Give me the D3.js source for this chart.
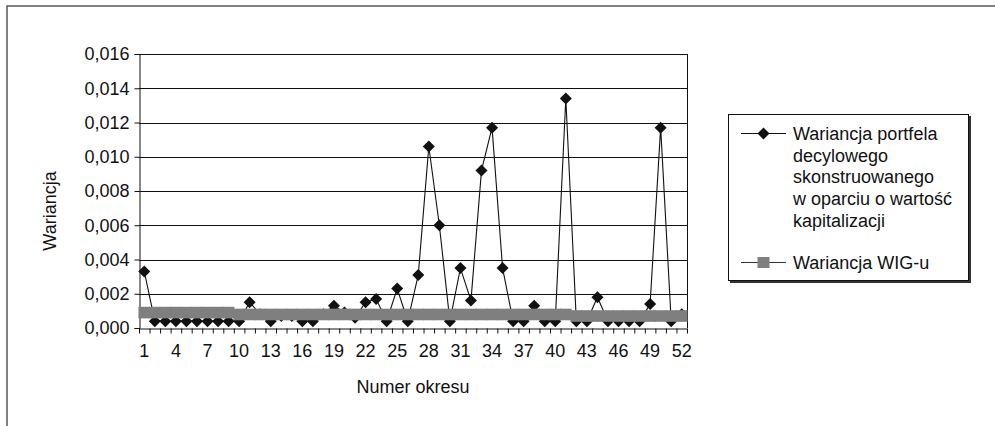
<!DOCTYPE html>
<meta charset="utf-8">
<style>
    body { margin: 0; background: #fff; }
    text { font-family: "Liberation Sans", Arial, sans-serif; fill: #111; }
    .axis path, .axis line { stroke: #111; }
</style>
<body>
<div id="chart"></div>
<script src="https://d3js.org/d3.v7.min.js"></script>
<script>

    // categories: period numbers
    var periods = [1, 2, 3, 4, 5, 6, 7, 8, 9, 10, 11, 12, 13, 14, 15, 16, 17, 18, 19, 20,
        21, 22, 23, 24, 25, 26, 27, 28, 29, 30, 31, 32, 33, 34, 35, 36, 37, 38, 39, 40,
        41, 42, 43, 44, 45, 46, 47, 48, 49, 50, 51, 52];

    // variance of the decile portfolio
    var portfolio = [0.0033, 0.0004, 0.0004, 0.0004, 0.0004, 0.0004, 0.0004, 0.0004, 0.0004, 0.0004,
        0.0015, 0.0008, 0.0004, 0.0007, 0.0007, 0.0004, 0.0004, 0.0008, 0.0013, 0.0009,
        0.0006, 0.0015, 0.0017, 0.0004, 0.0023, 0.0004, 0.0031, 0.0106, 0.0060, 0.0004,
        0.0035, 0.0016, 0.0092, 0.0117, 0.0035, 0.0004, 0.0004, 0.0013, 0.0004, 0.0004,
        0.0134, 0.0004, 0.0004, 0.0018, 0.0004, 0.0004, 0.0004, 0.0004, 0.0014, 0.0117,
        0.0004, 0.0008];

    // variance of WIG
    var wig = [0.0009, 0.0009, 0.0009, 0.0009, 0.0009, 0.0009, 0.0009, 0.0009, 0.0009, 0.00079,
        0.00079, 0.00079, 0.00079, 0.00079, 0.00079, 0.00079, 0.00079, 0.00079, 0.00079, 0.00079,
        0.00079, 0.00079, 0.00079, 0.00079, 0.00079, 0.00079, 0.00079, 0.00079, 0.00079, 0.00079,
        0.00079, 0.00079, 0.00079, 0.00079, 0.00079, 0.00079, 0.00079, 0.00079, 0.00079, 0.00079,
        0.00079, 0.0007, 0.0007, 0.0007, 0.0007, 0.0007, 0.0007, 0.0007, 0.0007, 0.0007,
        0.0007, 0.0007];

    var yTicks = [0, 0.002, 0.004, 0.006, 0.008, 0.010, 0.012, 0.014, 0.016];
    var xLabels = [1, 4, 7, 10, 13, 16, 19, 22, 25, 28, 31, 34, 37, 40, 43, 46, 49, 52];

    var legendPortfolio = ["Wariancja portfela", "decylowego", "skonstruowanego",
        "w oparciu o wartość", "kapitalizacji"];
    var legendWig = "Wariancja WIG-u";

    // dims
    var svg_dx = 995, svg_dy = 426;
    var plot = { left: 139, right: 687, top: 54, bottom: 328 };

    var svg = d3.select("#chart")
        .append("svg")
        .attr("width", svg_dx)
        .attr("height", svg_dy);

    // outer chart frame
    svg.append("rect")
        .attr("x", 7).attr("y", 6)
        .attr("width", 1000).attr("height", 440)
        .attr("fill", "none")
        .attr("stroke", "#555")
        .attr("stroke-width", 1.5);

    // scales
    var x = d3.scaleBand().domain(periods).range([plot.left, plot.right]).padding(0);
    var xEdge = d3.scaleLinear().domain([0, periods.length]).range([plot.left, plot.right]);
    var y = d3.scaleLinear().domain([0, 0.016]).range([plot.bottom, plot.top]);

    var cx = function (p) { return x(p) + x.bandwidth() / 2; };

    // grid
    svg.append("g")
        .selectAll("line")
        .data(yTicks.slice(1))
        .enter()
        .append("line")
        .attr("x1", plot.left).attr("x2", plot.right)
        .attr("y1", function (d) { return Math.round(y(d)) + 0.5; })
        .attr("y2", function (d) { return Math.round(y(d)) + 0.5; })
        .attr("stroke", "#111")
        .attr("stroke-width", 1);

    // right border of plot area
    svg.append("line")
        .attr("x1", plot.right + 0.5).attr("x2", plot.right + 0.5)
        .attr("y1", plot.top).attr("y2", plot.bottom)
        .attr("stroke", "#111");

    var fmt = d3.format(".3f");

    // y axis
    var yAxis = svg.append("g")
        .attr("class", "axis")
        .attr("transform", "translate(" + (plot.left + 0.5) + ",0)")
        .call(d3.axisLeft(y).tickValues(yTicks).tickSize(5).tickPadding(5)
            .tickFormat(function (d) { return fmt(d).replace(".", ","); }));
    yAxis.selectAll("text").style("font-size", "18px").attr("fill", "#111");

    // x axis: ticks between categories
    svg.append("g")
        .attr("class", "axis")
        .attr("transform", "translate(0," + (plot.bottom + 0.5) + ")")
        .call(d3.axisBottom(xEdge).tickValues(d3.range(0, periods.length + 1))
            .tickSize(5).tickSizeOuter(0).tickFormat(""));

    svg.append("g")
        .selectAll("text")
        .data(xLabels)
        .enter()
        .append("text")
        .attr("x", function (d) { return cx(d); })
        .attr("y", 357)
        .attr("text-anchor", "middle")
        .style("font-size", "18px")
        .text(function (d) { return d; });

    // axis titles
    svg.append("text")
        .attr("x", (plot.left + plot.right) / 2)
        .attr("y", 393)
        .attr("text-anchor", "middle")
        .style("font-size", "18px")
        .text("Numer okresu");

    svg.append("text")
        .attr("transform", "translate(56,211) rotate(-90)")
        .attr("text-anchor", "middle")
        .style("font-size", "18px")
        .text("Wariancja");

    var diamond = "M0,-6L6,0L0,6L-6,0Z";

    // portfolio series
    var line = d3.line()
        .x(function (d, i) { return cx(periods[i]); })
        .y(function (d) { return y(d); });

    svg.append("path")
        .datum(portfolio)
        .attr("d", line)
        .attr("fill", "none")
        .attr("stroke", "#111")
        .attr("stroke-width", 1.1);

    svg.append("g")
        .selectAll("path")
        .data(portfolio)
        .enter()
        .append("path")
        .attr("d", diamond)
        .attr("transform", function (d, i) { return "translate(" + cx(periods[i]) + "," + y(d) + ")"; })
        .attr("fill", "#111");

    // WIG series (drawn on top)
    svg.append("path")
        .datum(wig)
        .attr("d", line)
        .attr("fill", "none")
        .attr("stroke", "#7f7f7f")
        .attr("stroke-width", 1);

    var sq = 11.6;
    svg.append("g")
        .selectAll("rect")
        .data(wig)
        .enter()
        .append("rect")
        .attr("x", function (d, i) { return cx(periods[i]) - sq / 2; })
        .attr("y", function (d) { return y(d) - sq / 2; })
        .attr("width", sq)
        .attr("height", sq)
        .attr("fill", "#7f7f7f");

    // legend
    var lg = svg.append("g").attr("id", "legend");

    lg.append("rect")
        .attr("x", 730).attr("y", 116)
        .attr("width", 241).attr("height", 167)
        .attr("fill", "#333");
    lg.append("rect")
        .attr("x", 728.5).attr("y", 114.5)
        .attr("width", 240).attr("height", 166)
        .attr("fill", "#fff")
        .attr("stroke", "#111");

    lg.append("line")
        .attr("x1", 741).attr("x2", 786)
        .attr("y1", 133.5).attr("y2", 133.5)
        .attr("stroke", "#111");
    lg.append("path")
        .attr("d", diamond)
        .attr("transform", "translate(763.5,133.5)")
        .attr("fill", "#111");

    lg.append("text")
        .attr("x", 793)
        .attr("y", 140)
        .style("font-size", "18px")
        .selectAll("tspan")
        .data(legendPortfolio)
        .enter()
        .append("tspan")
        .attr("x", 793)
        .attr("dy", function (d, i) { return i === 0 ? 0 : 21.7; })
        .text(function (d) { return d; });

    lg.append("line")
        .attr("x1", 741).attr("x2", 786)
        .attr("y1", 262.5).attr("y2", 262.5)
        .attr("stroke", "#333");
    lg.append("rect")
        .attr("x", 757.5).attr("y", 257)
        .attr("width", 12).attr("height", 11)
        .attr("fill", "#7f7f7f");

    lg.append("text")
        .attr("x", 793)
        .attr("y", 269)
        .style("font-size", "18px")
        .text(legendWig);

</script>
</body>
